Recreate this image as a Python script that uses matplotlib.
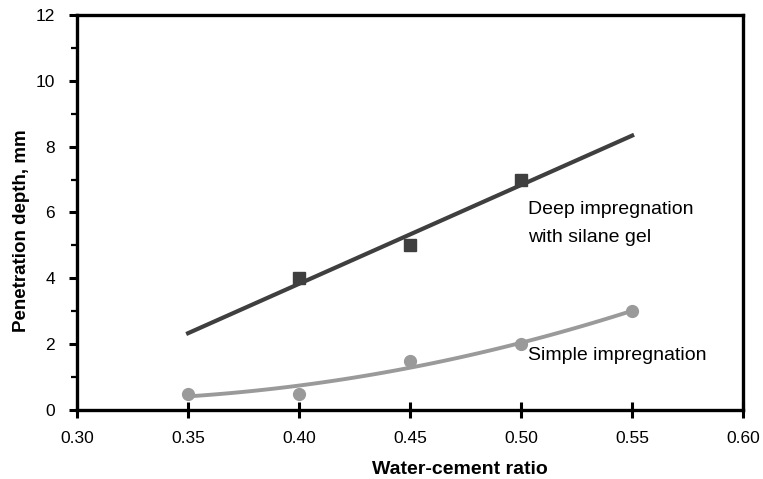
import matplotlib
matplotlib.use('Agg')
import matplotlib.pyplot as plt
import numpy as np
from matplotlib.ticker import MultipleLocator, FormatStrFormatter

plt.rcParams['font.family'] = ['Liberation Sans', 'DejaVu Sans']

# Data
deep_wc = [0.40, 0.45, 0.50]
deep_depth = [4.0, 5.0, 7.0]
simple_wc = [0.35, 0.40, 0.45, 0.50, 0.55]
simple_depth = [0.5, 0.5, 1.5, 2.0, 3.0]
trend_range = [0.35, 0.55]

dark = '#3f3f3f'
light = '#9a9a9a'

fig = plt.figure(figsize=(7.63, 4.79), dpi=100)
ax = fig.add_axes([0.101, 0.144, 0.873, 0.825])

# trend lines: linear for deep, 2nd order polynomial for simple
xs = np.linspace(trend_range[0], trend_range[1], 100)
p_deep = np.polyfit(deep_wc, deep_depth, 1)
p_simple = np.polyfit(simple_wc, simple_depth, 2)

ax.plot(simple_wc, simple_depth, 'o', color=light, ms=8.5, zorder=3)
ax.plot(xs, np.polyval(p_simple, xs), color=light, lw=2.8, zorder=2)
ax.plot(deep_wc, deep_depth, 's', color=dark, ms=9, zorder=3)
ax.plot(xs, np.polyval(p_deep, xs), color=dark, lw=3.0, zorder=2)

ax.text(0.503, 6.08, 'Deep impregnation', fontsize=14, va='center')
ax.text(0.503, 5.23, 'with silane gel', fontsize=14, va='center')
ax.text(0.503, 1.66, 'Simple impregnation', fontsize=14, va='center')

ax.set_xlim(0.30, 0.60)
ax.set_ylim(0, 12)
ax.xaxis.set_major_locator(MultipleLocator(0.05))
ax.xaxis.set_major_formatter(FormatStrFormatter('%.2f'))
ax.yaxis.set_major_locator(MultipleLocator(2))
ax.yaxis.set_minor_locator(MultipleLocator(1))

ax.tick_params(axis='x', direction='inout', length=12, width=2.2, labelsize=12.5, pad=9)
ax.tick_params(axis='y', which='major', direction='out', length=6, width=2.2, labelsize=12.5, pad=10)
ax.tick_params(axis='y', which='minor', direction='out', length=4, width=1.6)
for s in ax.spines.values():
    s.set_linewidth(2.4)

ax.set_xlabel('Water-cement ratio', fontsize=14, fontweight='bold')
ax.set_ylabel('Penetration depth, mm', fontsize=13.5, fontweight='bold')
ax.xaxis.set_label_coords(0.575, -0.13)
ax.yaxis.set_label_coords(-0.071, 0.453)

fig.savefig('out.png', dpi=100)
